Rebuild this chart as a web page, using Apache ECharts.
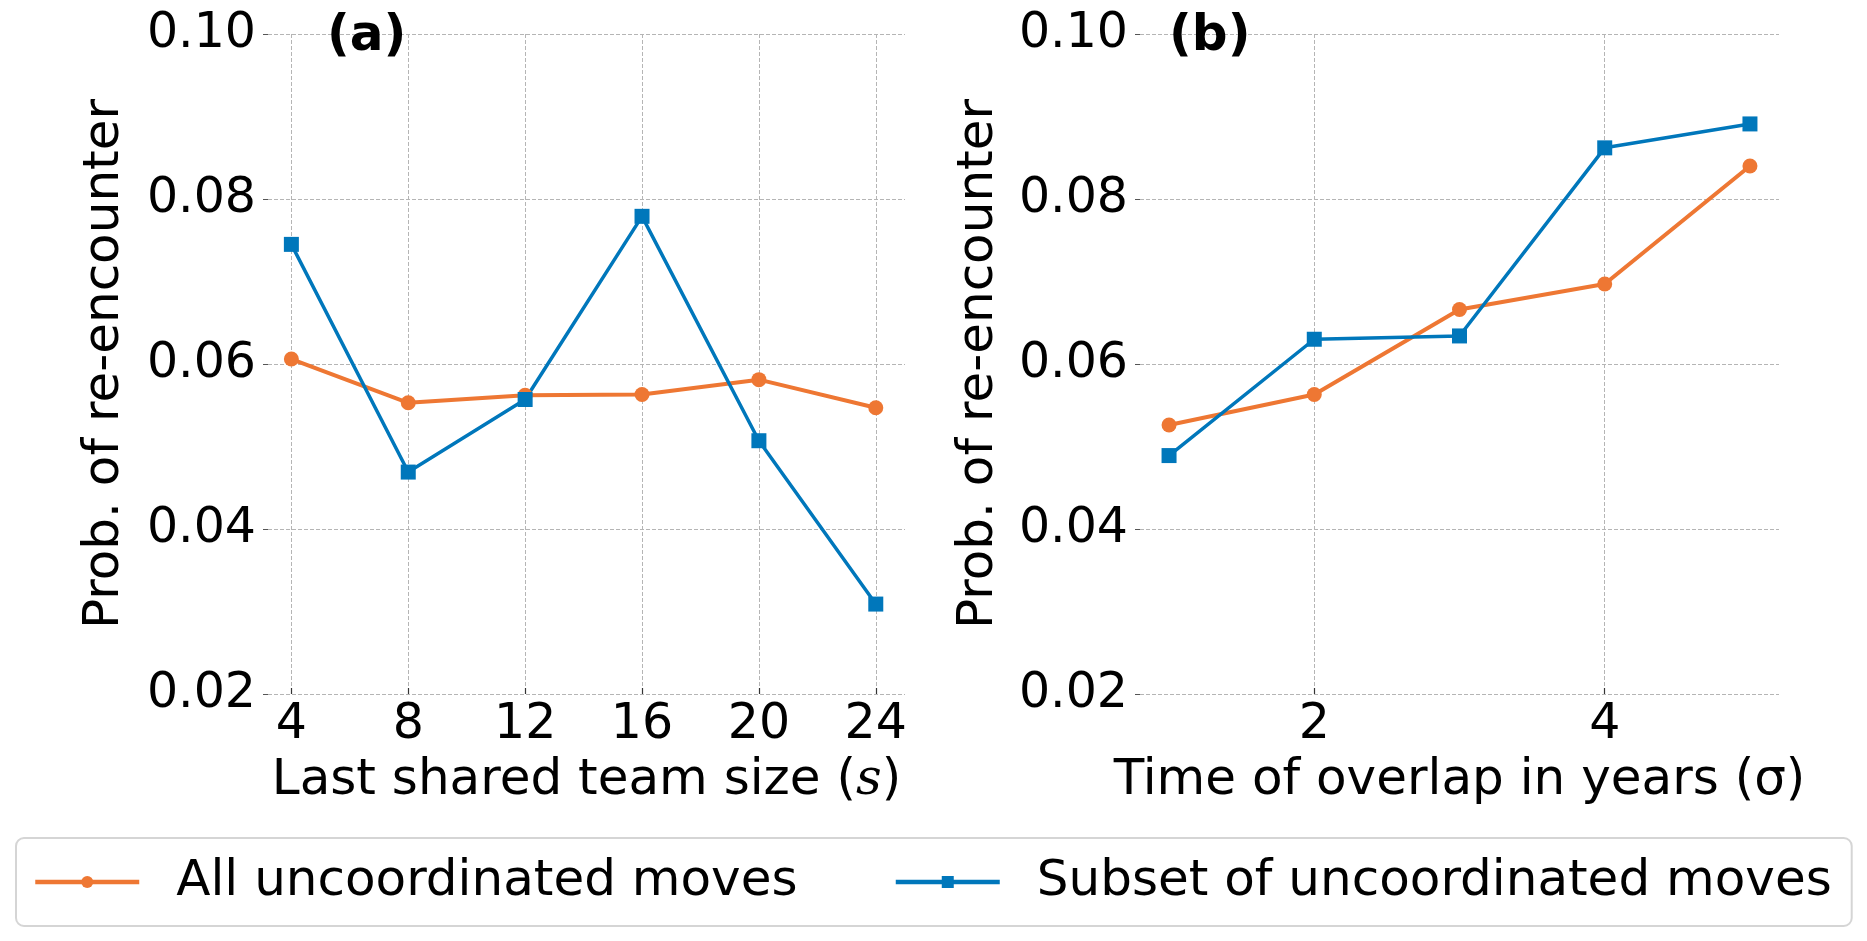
<!DOCTYPE html>
<html>
<head>
<meta charset="utf-8">
<script src="https://cdn.jsdelivr.net/npm/echarts@6/dist/echarts.min.js"></script>
<style>
html,body{margin:0;padding:0;background:#fff;}
#c{width:1867px;height:941px;}
</style>
</head>
<body>
<div id="c"></div>
<script>
// ---- data ----
const teamSizes = [4, 8, 12, 16, 20, 24];
const allMovesA = [0.0606, 0.0553, 0.0562, 0.0563, 0.0581, 0.0547];
const subsetA   = [0.0745, 0.0469, 0.0557, 0.0779, 0.0507, 0.0309];

const overlapYears = [1, 2, 3, 4, 5];
const allMovesB = [0.0526, 0.0563, 0.0666, 0.0697, 0.0840];
const subsetB   = [0.0489, 0.0630, 0.0634, 0.0862, 0.0891];

const xTicksA = [4, 8, 12, 16, 20, 24];
const xTicksB = [2, 4];
const seriesNames = ['All uncoordinated moves', 'Subset of uncoordinated moves'];
const yLabel = 'Prob. of re-encounter';

// ---- chart ----
const FONT = 'DejaVu Sans';
const FS = 50;
const TFS = 49;
const ORANGE = '#EE7733';
const BLUE = '#0077BB';

const pairs = (xs, ys) => xs.map((x, i) => [x, ys[i]]);

function yAxis(gi, gap) {
  return {
    type: 'value', gridIndex: gi, min: 0.02, max: 0.10, interval: 0.02,
    name: yLabel, nameLocation: 'middle', nameGap: gap,
    nameTextStyle: {fontFamily: FONT, fontSize: FS, color: '#000'},
    axisLine: {show: false},
    axisTick: {show: true, inside: false, length: 5, lineStyle: {color: '#555', width: 1}},
    axisLabel: {margin: 12, fontFamily: FONT, fontSize: TFS, color: '#000',
      formatter: v => v.toFixed(2)},
    splitLine: {show: true, lineStyle: {color: '#b5b5b5', type: [4, 2], width: 1}}
  };
}
function xAxis(gi, min, max, ticks, name) {
  return {
    type: 'value', gridIndex: gi, min: min, max: max,
    name: name, nameLocation: 'middle', nameGap: 62,
    nameTextStyle: {fontFamily: FONT, fontSize: FS, color: '#000',
      rich: {it: {fontFamily: 'DejaVu Serif', fontStyle: 'italic', fontSize: FS, color: '#000'}}},
    axisLine: {show: false},
    axisTick: {show: true, inside: true, length: 6, customValues: ticks, lineStyle: {color: '#333', width: 1.2}},
    axisLabel: {margin: 7, fontFamily: FONT, fontSize: TFS, color: '#000', customValues: ticks},
    splitLine: {show: true, lineStyle: {color: '#b5b5b5', type: [4, 2], width: 1}}
  };
}
function lineSeries(name, data, gi, color, symbol, width) {
  return {
    name: name, type: 'line', xAxisIndex: gi, yAxisIndex: gi, data: data,
    symbol: symbol, symbolSize: 15, showAllSymbol: true,
    lineStyle: {color: color, width: width},
    itemStyle: {color: color},
    emphasis: {disabled: true},
    animation: false
  };
}

const chart = echarts.init(document.getElementById('c'), null, {renderer: 'canvas'});
chart.setOption({
  backgroundColor: '#fff',
  animation: false,
  title: [
    {text: '(a)', left: 322, top: 7, textStyle: {fontFamily: FONT, fontSize: FS, fontWeight: 'bold', color: '#000'}},
    {text: '(b)', left: 1164, top: 7, textStyle: {fontFamily: FONT, fontSize: FS, fontWeight: 'bold', color: '#000'}}
  ],
  grid: [
    {left: 268, right: 962, top: 34, bottom: 247},
    {left: 1140, right: 88, top: 34, bottom: 247}
  ],
  xAxis: [
    xAxis(0, 3.2, 25, xTicksA, 'Last shared team size ({it|s})'),
    xAxis(1, 0.8, 5.2, xTicksB, 'Time of overlap in years (σ)')
  ],
  yAxis: [yAxis(0, 138), yAxis(1, 136)],
  legend: {
    data: [
      {name: seriesNames[0], lineStyle: {width: 4.5, color: ORANGE}, itemStyle: {color: ORANGE}},
      {name: seriesNames[1], lineStyle: {width: 4.5, color: BLUE}, itemStyle: {color: BLUE}}
    ],
    left: 16, top: 838,
    padding: [19, 20, 19, 17],
    itemGap: 96, itemWidth: 104, itemHeight: 15,
    borderColor: '#d5d5d5', borderWidth: 2, borderRadius: 8,
    backgroundColor: '#fff',
    textStyle: {fontFamily: FONT, fontSize: FS, color: '#000', padding: [0, 0, 0, 32]},
    selectedMode: false
  },
  series: [
    lineSeries(seriesNames[0], pairs(teamSizes, allMovesA), 0, ORANGE, 'circle', 4),
    lineSeries(seriesNames[1], pairs(teamSizes, subsetA), 0, BLUE, 'rect', 3.5),
    lineSeries(seriesNames[0], pairs(overlapYears, allMovesB), 1, ORANGE, 'circle', 4),
    lineSeries(seriesNames[1], pairs(overlapYears, subsetB), 1, BLUE, 'rect', 3.5)
  ]
});
</script>
</body>
</html>
